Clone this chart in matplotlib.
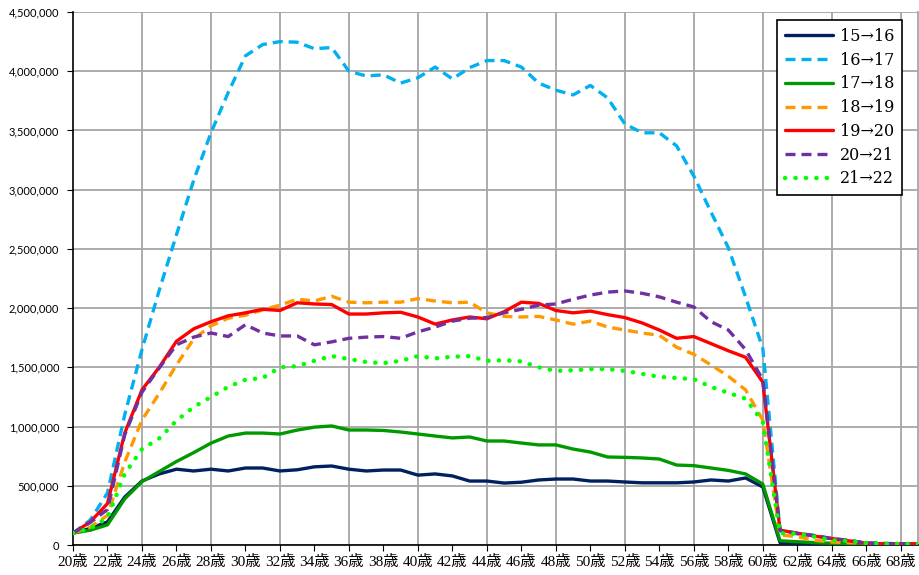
import matplotlib
matplotlib.use("Agg")
import matplotlib.pyplot as plt
from matplotlib.ticker import FuncFormatter, MultipleLocator

ages = list(range(20, 70))
tick_ages = list(range(20, 70, 2))
tick_labels = [f"{a}歳" for a in tick_ages]

s15_16 = [100, 140, 195, 405, 540, 600, 640, 625, 640, 625, 650, 650, 625, 635, 660, 667,
          640, 625, 633, 633, 590, 600, 583, 540, 540, 523, 530, 549, 557, 557, 540, 540,
          532, 525, 525, 525, 532, 549, 540, 566, 490, 20, 15, 10, 8, 5, 5, 5, 5, 5]
s16_17 = [100, 210, 440, 1100, 1650, 2150, 2620, 3080, 3480, 3820, 4130, 4225, 4250, 4245, 4190, 4200,
          4000, 3960, 3970, 3900, 3945, 4035, 3935, 4030, 4090, 4090, 4035, 3900, 3840, 3800, 3880, 3775,
          3555, 3480, 3480, 3370, 3115, 2810, 2510, 2095, 1660, 125, 100, 80, 50, 35, 20, 15, 10, 10]
s17_18 = [100, 125, 170, 390, 535, 620, 705, 780, 860, 920, 945, 945, 937, 970, 995, 1005,
          971, 971, 967, 954, 937, 920, 904, 912, 878, 878, 861, 845, 845, 810, 785, 743,
          740, 735, 726, 675, 670, 650, 630, 600, 515, 35, 28, 20, 15, 10, 5, 5, 5, 5]
s18_19 = [100, 150, 250, 700, 1055, 1280, 1520, 1740, 1850, 1915, 1940, 1985, 2025, 2075, 2060, 2100,
          2050, 2045, 2050, 2050, 2080, 2060, 2045, 2050, 1960, 1930, 1925, 1930, 1900, 1865, 1890, 1840,
          1815, 1790, 1770, 1670, 1610, 1520, 1425, 1310, 1055, 85, 70, 40, 25, 20, 15, 10, 10, 10]
s19_20 = [100, 195, 350, 945, 1310, 1500, 1720, 1825, 1885, 1935, 1960, 1990, 1980, 2045, 2035, 2030,
          1950, 1950, 1960, 1965, 1925, 1865, 1900, 1925, 1910, 1970, 2050, 2040, 1980, 1960, 1975, 1945,
          1920, 1875, 1815, 1745, 1760, 1700, 1640, 1585, 1375, 125, 100, 75, 55, 35, 15, 10, 10, 10]
s20_21 = [100, 190, 300, 930, 1290, 1495, 1690, 1755, 1790, 1760, 1860, 1790, 1765, 1765, 1690, 1715,
          1745, 1755, 1760, 1745, 1800, 1840, 1890, 1915, 1920, 1960, 1990, 2025, 2035, 2075, 2110, 2135,
          2145, 2125, 2095, 2050, 2010, 1885, 1815, 1650, 1395, 120, 95, 80, 55, 40, 15, 10, 10, 10]
s21_22 = [100, 140, 230, 600, 810, 900, 1050, 1165, 1250, 1335, 1395, 1410, 1500, 1510, 1555, 1595,
          1570, 1545, 1535, 1555, 1595, 1575, 1590, 1595, 1555, 1560, 1550, 1500, 1470, 1475, 1485, 1485,
          1470, 1445, 1420, 1410, 1400, 1335, 1285, 1235, 1040, 100, 95, 70, 40, 35, 15, 10, 10, 10]

series_names = ["15→16", "16→17", "17→18", "18→19", "19→20", "20→21", "21→22"]
series_vals = [s15_16, s16_17, s17_18, s18_19, s19_20, s20_21, s21_22]
colors = ["#002060", "#00b0f0", "#009a00", "#ff9900", "#ff0000", "#7030a0", "#00ff00"]
styles = ["-", (0, (3, 1.8)), "-", (0, (3, 1.8)), "-", (0, (3, 1.8)), (0, (0.05, 2.3))]

fig = plt.figure(figsize=(9.2, 5.75), dpi=100)
ax = fig.add_axes([73/920, 1-545/575, (918-73)/920, (545-12)/575])

for name, vals, c, ls in zip(series_names, series_vals, colors, styles):
    y = [v * 1000 for v in vals]
    dotted = name == "21→22"
    ax.plot(ages, y, color=c, lw=2.4 if not dotted else 3.2, linestyle=ls, label=name,
            solid_capstyle="round", dash_capstyle="round" if dotted else "butt",
            solid_joinstyle="round", zorder=3)

ax.set_xlim(20, 69)
ax.set_ylim(0, 4500000)
ax.yaxis.set_major_locator(MultipleLocator(500000))
ax.yaxis.set_major_formatter(FuncFormatter(lambda v, p: f"{int(v):,}"))

ax.set_xticks(tick_ages)
ax.set_xticklabels(tick_labels, family=["Liberation Serif", "Noto Sans CJK JP"], fontsize=11)
for lab in ax.get_yticklabels():
    lab.set_family("Lato")
    lab.set_fontsize(8)

ax.tick_params(axis="x", direction="out", length=4, color="black", pad=3)
ax.tick_params(axis="y", direction="out", length=4, color="black", pad=6)
ax.xaxis.grid(False, which="both")
ax.yaxis.grid(True, which="major", color="#a6a6a6", lw=1.3)
ax.set_axisbelow(True)
for a in range(24, 69, 4):
    ax.axvline(a, color="#a6a6a6", lw=1.3, zorder=0.5)

ax.spines["top"].set_visible(False)
ax.spines["right"].set_color("#a6a6a6")
ax.spines["right"].set_linewidth(1.3)
ax.spines["left"].set_color("black")
ax.spines["bottom"].set_color("black")
ax.spines["left"].set_linewidth(1.2)
ax.spines["bottom"].set_linewidth(1.2)

leg = ax.legend(loc="upper right", bbox_to_anchor=((902-73)/845, (545-20)/533),
                prop={"family": ["DejaVu Serif"], "size": 11.5},
                frameon=True, fancybox=False, edgecolor="black", framealpha=1,
                handlelength=3.0, handletextpad=0.4, labelspacing=0.42, borderpad=0.5,
                borderaxespad=0)
leg.get_frame().set_linewidth(1.2)

fig.savefig("out.png", dpi=100)
